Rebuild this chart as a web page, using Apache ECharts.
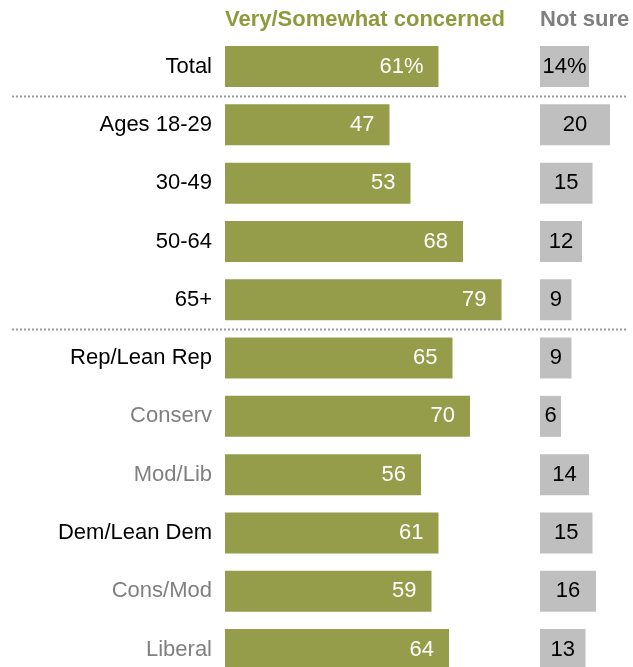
<!DOCTYPE html>
<html>
<head>
<meta charset="utf-8">
<script src="https://cdn.jsdelivr.net/npm/echarts@6/dist/echarts.min.js"></script>
<style>
  html, body { margin: 0; padding: 0; background: #fff; overflow: hidden; }
  #chart { width: 633px; height: 680px; }
</style>
</head>
<body>
<div id="chart"></div>
<script>
// Groups, top to bottom
const categories = ['Total', 'Ages 18-29', '30-49', '50-64', '65+',
  'Rep/Lean Rep', 'Conserv', 'Mod/Lib', 'Dem/Lean Dem', 'Cons/Mod', 'Liberal'];
// Sub-groups drawn in lighter grey
const subgroups = ['Conserv', 'Mod/Lib', 'Cons/Mod', 'Liberal'];
// % very/somewhat concerned
const concerned = [61, 47, 53, 68, 79, 65, 70, 56, 61, 59, 64];
// % not sure
const notSure = [14, 20, 15, 12, 9, 9, 6, 14, 15, 16, 13];
// Rows followed by a dotted divider
const dividerAfter = ['Total', '65+'];

const FONT = 'Liberation Sans';
const FS = 22;
const GREEN = '#959d4a';
const GREY = '#bfbfbf';

const chart = echarts.init(document.getElementById('chart'), null, { renderer: 'canvas' });

const yCommon = {
  type: 'category',
  data: categories,
  inverse: true,
  axisLine: { show: false },
  axisTick: { show: false },
  splitLine: { show: false }
};

const pctLabel = (p) => p.dataIndex === 0 ? p.value + '%' : String(p.value);

chart.setOption({
  animation: false,
  grid: [
    { left: 225, top: 37.4, width: 350, height: 641.3, containLabel: false },
    { left: 540, top: 37.4, width: 87.5, height: 641.3, containLabel: false }
  ],
  xAxis: [
    { type: 'value', gridIndex: 0, min: 0, max: 100, show: false },
    { type: 'value', gridIndex: 1, min: 0, max: 25, show: false }
  ],
  yAxis: [
    Object.assign({}, yCommon, {
      gridIndex: 0,
      axisLabel: {
        margin: 13,
        fontFamily: FONT,
        fontSize: FS,
        formatter: (v) => subgroups.includes(v) ? '{sub|' + v + '}' : '{main|' + v + '}',
        rich: {
          main: { color: '#000', fontFamily: FONT, fontSize: FS },
          sub: { color: '#808080', fontFamily: FONT, fontSize: FS }
        }
      }
    }),
    Object.assign({}, yCommon, { gridIndex: 1, axisLabel: { show: false } })
  ],
  series: [
    {
      name: 'Very/Somewhat concerned',
      type: 'bar',
      xAxisIndex: 0,
      yAxisIndex: 0,
      data: concerned,
      barWidth: 41,
      itemStyle: { color: GREEN },
      label: {
        show: true,
        position: 'insideRight',
        distance: 15,
        color: '#fff',
        fontFamily: FONT,
        fontSize: FS,
        formatter: pctLabel
      }
    },
    {
      name: 'Not sure',
      type: 'bar',
      xAxisIndex: 1,
      yAxisIndex: 1,
      data: notSure,
      barWidth: 41,
      itemStyle: { color: GREY },
      label: {
        show: true,
        position: 'inside',
        color: '#000',
        fontFamily: FONT,
        fontSize: FS,
        formatter: pctLabel
      }
    }
  ]
});

// Headers and dividers placed from the axes' own scales
function decorate() {
  const x0 = chart.convertToPixel({ xAxisIndex: 0 }, 0);
  const x1 = chart.convertToPixel({ xAxisIndex: 1 }, 0);
  const yTop = chart.convertToPixel({ yAxisIndex: 0 }, categories[0]);
  const yNext = chart.convertToPixel({ yAxisIndex: 0 }, categories[1]);
  const band = yNext - yTop;
  const headerY = yTop - band * 0.8;

  const elements = [
    {
      type: 'text', x: x0, y: headerY,
      style: { text: 'Very/Somewhat concerned', fill: '#8e9a3c', font: 'bold 22px ' + FONT,
        verticalAlign: 'middle', align: 'left' }
    },
    {
      type: 'text', x: x1, y: headerY,
      style: { text: 'Not sure', fill: '#7f7f7f', font: 'bold 22px ' + FONT,
        verticalAlign: 'middle', align: 'left' }
    }
  ];
  dividerAfter.forEach((name) => {
    const yc = chart.convertToPixel({ yAxisIndex: 0 }, name);
    const y = Math.round(yc + band / 2) + 0.5;
    elements.push({
      type: 'line',
      shape: { x1: 12, y1: y, x2: 628, y2: y },
      style: { stroke: '#9a9a9a', lineWidth: 2, lineDash: [2, 2] },
      silent: true
    });
  });
  chart.setOption({ graphic: elements });
}
decorate();
</script>
</body>
</html>
